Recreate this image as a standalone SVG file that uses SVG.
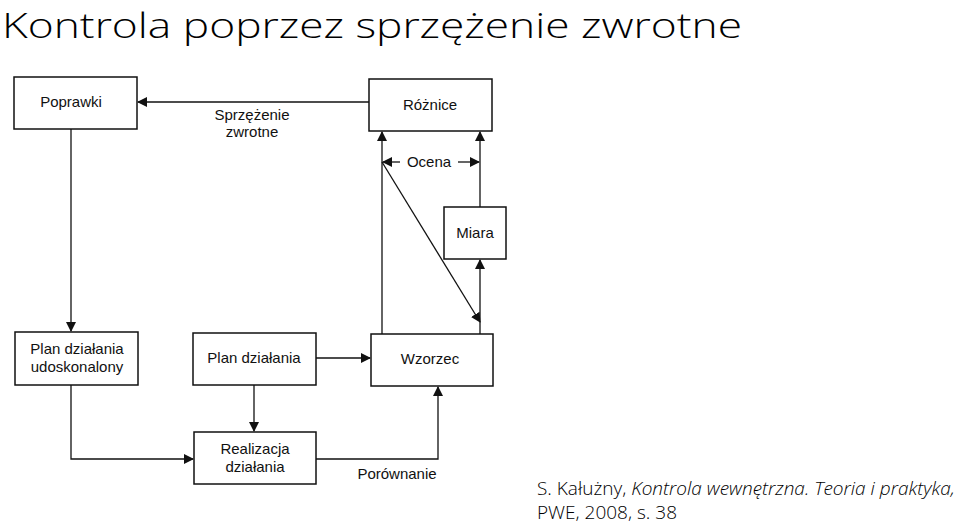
<svg xmlns="http://www.w3.org/2000/svg" width="960" height="524" viewBox="0 0 960 524">
<defs>
<marker id="a" markerWidth="10" markerHeight="10" refX="9" refY="5" orient="auto" markerUnits="userSpaceOnUse"><path d="M0,0 L10,5 L0,10 z" fill="#111"/></marker>
<style>
.b{fill:#fff;stroke:#111;stroke-width:1.5}
.t{font-family:"Liberation Sans",Arial,sans-serif;font-size:15px;fill:#111;text-anchor:middle}
.c{fill:none;stroke:#111;stroke-width:1.3}
.h{font-family:"Open Sans","Noto Sans",sans-serif;font-weight:300;fill:#000}
</style>
</defs>
<rect width="960" height="524" fill="#fff"/>
<text class="h" x="2" y="38" font-size="34" textLength="740" lengthAdjust="spacingAndGlyphs">Kontrola poprzez sprzężenie zwrotne</text>
<g id="connectors">
<path class="c" d="M369,102 H138" marker-end="url(#a)"/>
<path class="c" d="M71,129 V331" marker-end="url(#a)"/>
<path class="c" d="M382,334 V132" marker-end="url(#a)"/>
<path class="c" d="M480,334 V260" marker-end="url(#a)"/>
<path class="c" d="M480,207 V132" marker-end="url(#a)"/>
<path class="c" d="M400,162 H383" marker-end="url(#a)"/>
<path class="c" d="M458,162 H479" marker-end="url(#a)"/>
<path class="c" d="M382,162 L480,322" marker-end="url(#a)"/>
<path class="c" d="M316,358 H370" marker-end="url(#a)"/>
<path class="c" d="M254,385 V431" marker-end="url(#a)"/>
<path class="c" d="M71,385 V459 H193" marker-end="url(#a)"/>
<path class="c" d="M316,459 H438 V387" marker-end="url(#a)"/>
<text class="t" x="252" y="120">Sprzężenie</text>
<text class="t" x="252" y="137">zwrotne</text>
<text class="t" x="429" y="167">Ocena</text>
<text class="t" x="397" y="479">Porównanie</text>
</g>
<g id="poprawki"><rect class="b" x="14" y="77" width="123" height="52"/><text class="t" x="71" y="107">Poprawki</text></g>
<g id="roznice"><rect class="b" x="369" y="79" width="123" height="52"/><text class="t" x="430" y="110">Różnice</text></g>
<g id="miara"><rect class="b" x="444" y="207" width="62" height="52"/><text class="t" x="475" y="238">Miara</text></g>
<g id="plan-udosk"><rect class="b" x="15" y="332" width="123" height="53"/><text class="t" x="77" y="354">Plan działania</text><text class="t" x="77" y="372">udoskonalony</text></g>
<g id="plan"><rect class="b" x="193" y="333" width="123" height="52"/><text class="t" x="254" y="363">Plan działania</text></g>
<g id="wzorzec"><rect class="b" x="371" y="334" width="122" height="52"/><text class="t" x="430" y="364">Wzorzec</text></g>
<g id="realizacja"><rect class="b" x="194" y="432" width="122" height="52"/><text class="t" x="255" y="454">Realizacja</text><text class="t" x="255" y="472">działania</text></g>
<text class="h" x="537" y="495" font-size="19" font-weight="400">S. Kałużny, <tspan font-style="italic">Kontrola wewnętrzna. Teoria i praktyka,</tspan></text>
<text class="h" x="537" y="519" font-size="19" font-weight="400">PWE, 2008, s. 38</text>
</svg>
